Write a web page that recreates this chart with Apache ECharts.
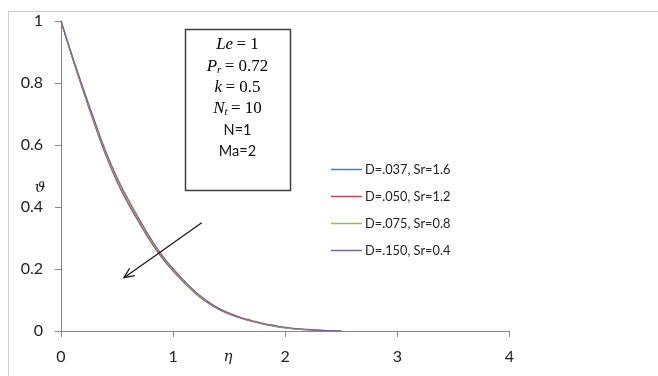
<!DOCTYPE html>
<html>
<head>
<meta charset="utf-8">
<script src="https://cdn.jsdelivr.net/npm/echarts@6/dist/echarts.min.js"></script>
<style>
html,body{margin:0;padding:0;background:#fff;}
#c{width:658px;height:376px;}
</style>
</head>
<body>
<div id="c"></div>
<script>
// eta grid
const eta = [0,0.1,0.2,0.3,0.4,0.5,0.6,0.7,0.8,0.9,1.0,1.1,1.2,1.3,1.4,1.5,1.6,1.7,1.8,1.9,2.0,2.1,2.2,2.3,2.4,2.5];
const seriesNames = ['D=.037, Sr=1.6','D=.050, Sr=1.2','D=.075, Sr=0.8','D=.150, Sr=0.4'];
const thetaD037 = [1,0.883,0.772,0.666,0.566,0.481,0.410,0.347,0.288,0.236,0.193,0.155,0.121,0.093,0.071,0.055,0.042,0.032,0.023,0.016,0.010,0.006,0.004,0.002,0.001,0];
const thetaD050 = [1,0.884,0.774,0.669,0.569,0.484,0.413,0.350,0.290,0.238,0.195,0.157,0.122,0.094,0.072,0.055,0.042,0.032,0.023,0.016,0.011,0.007,0.004,0.002,0.001,0];
const thetaD075 = [1,0.886,0.777,0.673,0.574,0.489,0.418,0.355,0.294,0.242,0.198,0.159,0.124,0.096,0.074,0.057,0.043,0.033,0.024,0.017,0.011,0.007,0.004,0.002,0.001,0];
const thetaD150 = [1,0.888,0.781,0.678,0.579,0.495,0.424,0.360,0.299,0.246,0.201,0.162,0.127,0.098,0.075,0.058,0.044,0.034,0.025,0.018,0.012,0.008,0.005,0.003,0.001,0];
const xTicks = [0,1,2,3,4];
const yTicks = [0,0.2,0.4,0.6,0.8,1];
const colors = ['#4A7EBB','#BE4B48','#98B954','#7D60A0'];
const allTheta = [thetaD037,thetaD050,thetaD075,thetaD150];
// arrow annotation endpoints in data coords
const arrowFrom = [1.255,0.349];
const arrowTo = [0.562,0.172];

const chart = echarts.init(document.getElementById('c'));
const font = 'Lato, "Open Sans", sans-serif';
const axisGray = '#868686';

const series = allTheta.map((arr,i)=>({
  name: seriesNames[i],
  type: 'line',
  smooth: true,
  showSymbol: false,
  symbol: 'none',
  data: eta.map((e,j)=>[e,arr[j]]),
  lineStyle: {color: colors[i], width: 1.2},
  itemStyle: {color: colors[i]},
  animation: false,
  z: 2+i
}));

chart.setOption({
  animation: false,
  backgroundColor: '#fff',
  grid: {left: 61, right: 148.5, top: 21, bottom: 45, containLabel: false},
  xAxis: {
    type: 'value', min: 0, max: 4, interval: 1,
    axisLine: {show: true, lineStyle: {color: axisGray, width: 1}},
    axisTick: {show: true, inside: false, length: 6, lineStyle: {color: axisGray}},
    axisLabel: {color: '#222', fontFamily: font, fontSize: 16, margin: 18,
      formatter: v => xTicks.includes(v) ? String(v) : ''},
    splitLine: {show: false}
  },
  yAxis: {
    type: 'value', min: 0, max: 1, interval: 0.2,
    axisLine: {show: true, onZero: false, lineStyle: {color: axisGray, width: 1}},
    axisTick: {show: true, inside: false, length: 6, lineStyle: {color: axisGray}},
    axisLabel: {color: '#222', fontFamily: font, fontSize: 16, margin: 18,
      formatter: v => { const t = yTicks.find(y=>Math.abs(y-v)<1e-9); return t===undefined? '' : String(+t.toFixed(1)); }},
    splitLine: {show: false}
  },
  legend: {
    orient: 'vertical', left: 326, top: 157,
    itemWidth: 31, itemHeight: 1.5, itemGap: 12,
    icon: 'rect',
    textStyle: {fontFamily: font, fontSize: 12.8, color: '#222', lineHeight: 15, padding: [0,0,0,-2]},
    data: seriesNames
  },
  series: series
});

function draw(){
  const p0 = chart.convertToPixel({gridIndex:0}, arrowFrom);
  const p1 = chart.convertToPixel({gridIndex:0}, arrowTo);
  const dx = p1[0]-p0[0], dy = p1[1]-p0[1];
  const L = Math.hypot(dx,dy), ux = dx/L, uy = dy/L;
  const head = 11, ang = 0.42;
  const hx1 = p1[0] - head*(ux*Math.cos(ang) - uy*Math.sin(ang));
  const hy1 = p1[1] - head*(uy*Math.cos(ang) + ux*Math.sin(ang));
  const hx2 = p1[0] - head*(ux*Math.cos(-ang) - uy*Math.sin(-ang));
  const hy2 = p1[1] - head*(uy*Math.cos(-ang) + ux*Math.sin(-ang));
  const serif = '"DejaVu Serif", "Liberation Serif", serif';
  const mathRich = {
    i: {fontFamily: '"Liberation Serif", serif', fontStyle: 'italic', fontSize: 17, color: '#111'},
    u: {fontFamily: '"Liberation Serif", serif', fontSize: 17, color: '#111'},
    s: {fontFamily: '"Liberation Serif", serif', fontStyle: 'italic', fontSize: 11, color: '#111', verticalAlign: 'bottom', padding: [7,0,0,0]}
  };
  const cx = 237.5;
  chart.setOption({
    graphic: [
      {type:'rect', shape:{x:8.5,y:11.5,width:700,height:400}, style:{fill:'none', stroke:'#cfcfcf', lineWidth:1}, silent:true, z:0},
      {type:'rect', shape:{x:185.5,y:29.5,width:105,height:161}, style:{fill:'#fff', stroke:'#404040', lineWidth:1.5}, z:10},
      {type:'text', x:cx, y:45, style:{text:'{i|Le} {u|= 1}', rich: mathRich, align:'center', verticalAlign:'middle'}, z:11},
      {type:'text', x:cx, y:67, style:{text:'{i|P}{s|r} {u|= 0.72}', rich: mathRich, align:'center', verticalAlign:'middle'}, z:11},
      {type:'text', x:cx, y:88, style:{text:'{i|k} {u|= 0.5}', rich: mathRich, align:'center', verticalAlign:'middle'}, z:11},
      {type:'text', x:cx, y:109, style:{text:'{i|N}{s|t} {u|= 10}', rich: mathRich, align:'center', verticalAlign:'middle'}, z:11},
      {type:'text', x:cx, y:130, style:{text:'N=1', fontFamily: font, fontSize:14.5, fill:'#111', align:'center', verticalAlign:'middle'}, z:11},
      {type:'text', x:cx, y:151, style:{text:'Ma=2', fontFamily: font, fontSize:14.5, fill:'#111', align:'center', verticalAlign:'middle'}, z:11},
      {type:'text', x:228, y:357, style:{text:'η', fontFamily: serif, fontStyle:'italic', fontSize:15, fill:'#222', align:'center', verticalAlign:'middle'}, z:11},
      {type:'text', x:40, y:188, style:{text:'ϑ', fontFamily: serif, fontStyle:'italic', fontSize:15, fill:'#222', align:'center', verticalAlign:'middle'}, z:11},
      {type:'line', shape:{x1:p0[0],y1:p0[1],x2:p1[0],y2:p1[1]}, style:{stroke:'#1a1a1a', lineWidth:1.3}, z:12},
      {type:'polyline', shape:{points:[[hx1,hy1],[p1[0],p1[1]],[hx2,hy2]]}, style:{fill:'none', stroke:'#1a1a1a', lineWidth:1.3}, z:12}
    ]
  });
}
draw();
</script>
</body>
</html>
